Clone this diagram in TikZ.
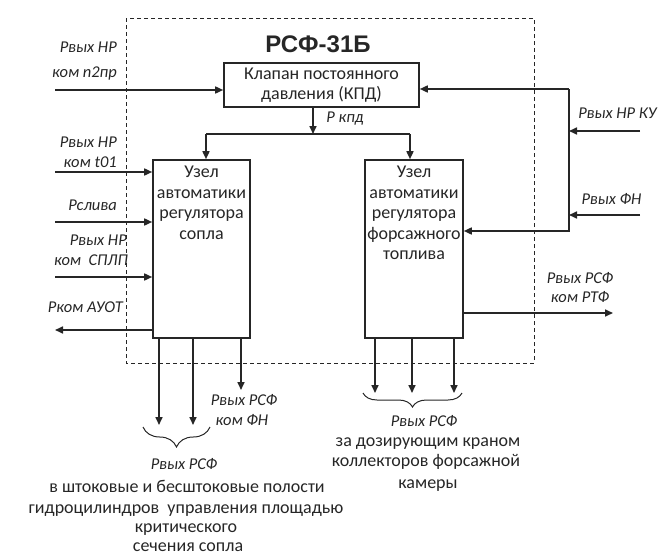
\documentclass[tikz,border=0pt]{standalone}
\usepackage{fontspec}
\setmainfont{Carlito}
\newfontfamily\titlefont{Liberation Sans}
\usetikzlibrary{arrows.meta,decorations.pathreplacing,calc}
\definecolor{ink}{HTML}{262626}
\tikzset{
  arr/.style={draw=ink,line width=1.6pt,-{Triangle[length=8pt,width=7pt]}},
  ln/.style={draw=ink,line width=1.6pt},
  blk/.style={draw=ink,line width=1.6pt,rectangle,inner sep=0pt},
  txt/.style={text=ink,font=\fontsize{18}{20.5}\selectfont,inner sep=0pt,align=center},
  lab/.style={text=ink,font=\fontsize{16.5}{20}\selectfont\itshape,inner sep=0pt},
  brc/.style={draw=ink,line width=1pt,decorate,decoration={brace,mirror,aspect=0.5}}
}
\begin{document}
\begin{tikzpicture}[x=1pt,y=-1pt]
\useasboundingbox (0,0) rectangle (659,554);
% dashed outline
\draw[ink,line width=1pt,dash pattern=on 4pt off 3pt] (126,18) rectangle (534,363);
\node[text=ink,font=\titlefont\fontsize{24}{28}\selectfont\bfseries,inner sep=0pt] (title) at (318,44) {РСФ-31Б};
% blocks
\node[blk,minimum width=195pt,minimum height=44pt] (kpd) at (321.5,85) {};
\node[txt] (kpdt) at (321.5,85) {Клапан постоянного\\давления (КПД)};
\node[blk,minimum width=97pt,minimum height=178pt] (lbox) at (201.5,249) {};
\node[txt] (lboxt) at (201.5,203) {Узел\\автоматики\\регулятора\\сопла};
\node[blk,minimum width=98pt,minimum height=178pt] (rbox) at (414,249) {};
\node[txt] (rboxt) at (414,213) {Узел\\автоматики\\регулятора\\форсажного\\топлива};
% coordinates
\coordinate (in1) at (55,90);
\coordinate (in2) at (55,172);
\coordinate (in3) at (55,222);
\coordinate (in4) at (55,277);
\coordinate (out1) at (55,330);
\coordinate (ku) at (640,131);
\coordinate (fn) at (640,215);
\coordinate (j2) at (569,89);
\coordinate (j1) at (569,231);
\coordinate (pk) at (313,134);
\coordinate (b1) at (206,134);
\coordinate (b2) at (410,134);
\coordinate (rtf) at (613,313);
\coordinate (o1) at (159,425);
\coordinate (o2) at (193,425);
\coordinate (o3) at (241,390);
\coordinate (o4) at (375,393);
\coordinate (o5) at (412,393);
\coordinate (o6) at (454,393);
% connectors
\draw[arr] (in1) -- (in1 -| kpd.west);
\draw[arr] (in2) -- (in2 -| lbox.west);
\draw[arr] (in3) -- (in3 -| lbox.west);
\draw[arr] (in4) -- (in4 -| lbox.west);
\draw[arr] (out1 -| lbox.west) -- (out1);
\draw[arr] (j2) -- (j2 -| kpd.east);
\draw[arr] (j2) -- (j1) -- (j1 -| rbox.east);
\draw[arr] (ku) -- (ku -| j1);
\draw[arr] (fn) -- (fn -| j1);
\draw[arr] (pk |- kpd.south) -- (pk);
\draw[ln] (b1) -- (b2);
\draw[arr] (b1) -- (b1 |- lbox.north);
\draw[arr] (b2) -- (b2 |- rbox.north);
\draw[arr] (rtf -| rbox.east) -- (rtf);
\draw[arr] (o1 |- lbox.south) -- (o1);
\draw[arr] (o2 |- lbox.south) -- (o2);
\draw[arr] (o3 |- lbox.south) -- (o3);
\draw[arr] (o4 |- rbox.south) -- (o4);
\draw[arr] (o5 |- rbox.south) -- (o5);
\draw[arr] (o6 |- rbox.south) -- (o6);
% braces
\draw[brc,decoration={amplitude=20pt}] (143,427) -- (210,427);
\draw[brc,decoration={amplitude=14pt}] (363,393) -- (462,393);
% left labels
\node[lab,anchor=base east] (a1) at (117,52) {Рвых НР};
\node[lab,anchor=base east] (a2) at (117,77) {ком n2пр};
\node[lab,anchor=base east] (a3) at (117,147) {Рвых НР};
\node[lab,anchor=base east] (a4) at (117,167) {ком t01};
\node[lab,anchor=base east] (a5) at (117,210) {Рслива};
\node[lab,anchor=base east] (a6) at (127,245) {Рвых НР};
\node[lab,anchor=base east] (a7) at (128,265) {ком~~СПЛП};
\node[lab,anchor=base east] (a8) at (123,312) {Рком АУОТ};
% right labels
\node[lab,anchor=base] (r1) at (617.5,118) {Рвых НР КУ};
\node[lab,anchor=base] (r2) at (611.5,204) {Рвых ФН};
\node[lab,anchor=base] (r3) at (580,283) {Рвых РСФ};
\node[lab,anchor=base] (r4) at (580,302) {ком РТФ};
\node[lab,anchor=base] (pkl) at (345,122) {Р кпд};
% bottom labels
\node[lab,anchor=base] (f1) at (244,405) {Рвых РСФ};
\node[lab,anchor=base] (f2) at (242,425) {ком ФН};
\node[lab,anchor=base] (c1) at (184,469) {Рвых РСФ};
\node[txt,anchor=base] (c2) at (187,492) {в штоковые и бесштоковые полости};
\node[txt,anchor=base] (c3) at (186,513) {гидроцилиндров~ управления площадью};
\node[txt,anchor=base] (c4) at (186,532) {критического};
\node[txt,anchor=base] (c5) at (188,551) {сечения сопла};
\node[lab,anchor=base] (d1) at (424,426) {Рвых РСФ};
\node[txt,anchor=base] (d2) at (428,446) {за дозирующим краном};
\node[txt,anchor=base] (d3) at (426,466) {коллекторов форсажной};
\node[txt,anchor=base] (d4) at (428,488) {камеры};
\end{tikzpicture}
\end{document}
